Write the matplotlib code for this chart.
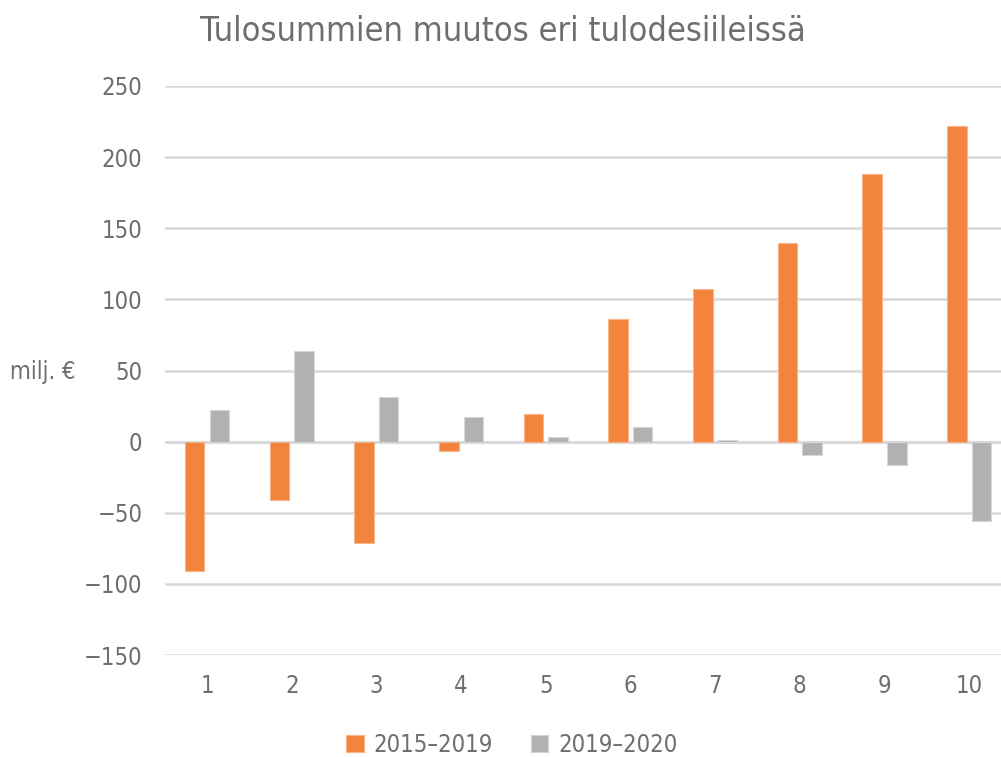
import numpy as np
import matplotlib.pyplot as plt
from matplotlib import font_manager

deciles = ['1', '2', '3', '4', '5', '6', '7', '8', '9', '10']
chg_2015_2019 = [-91, -41, -71, -6.5, 19.5, 86, 107, 139.5, 188, 222]
chg_2019_2020 = [22.5, 63.5, 31.5, 17.5, 3, 10, 1.2, -9.5, -16.5, -56]
series_names = ['2015–2019', '2019–2020']

orange = '#f2843d'
grey = '#b1b1b4'
txt = '#6d6e71'

# pick a narrow face if one is there
fonts = font_manager.fontManager.ttflist
narrow = [f for f in fonts if f.name == 'Liberation Sans Narrow']
condensed = [f for f in fonts if f.name == 'DejaVu Sans' and f.stretch == 'condensed']
if narrow:
    plt.rcParams['font.family'] = ['Liberation Sans Narrow', 'DejaVu Sans']
    scale = 1.0
elif condensed:
    plt.rcParams['font.family'] = ['DejaVu Sans']
    plt.rcParams['font.stretch'] = 'condensed'
    scale = 0.95
else:
    plt.rcParams['font.family'] = ['DejaVu Sans']
    scale = 0.85

fig = plt.figure(figsize=(10.01, 7.57), dpi=100)
ax = fig.add_axes([0.1645, 0.1347, 0.846, 0.7517])

x = np.arange(len(deciles))
w = 0.23
ax.bar(x - 0.145, chg_2015_2019, w, color=orange, edgecolor='#f7b58a', linewidth=0.8,
       label=series_names[0], zorder=3)
ax.bar(x + 0.145, chg_2019_2020, w, color=grey, edgecolor='#d6d6d8', linewidth=0.8,
       label=series_names[1], zorder=3)

ax.set_xlim(-0.5, len(deciles) - 0.5)
ax.set_ylim(-150, 250)
ax.set_yticks(range(-150, 251, 50))
ax.set_yticklabels([str(v).replace('-', '\u2212') for v in range(-150, 251, 50)])
ax.set_xticks(x)
ax.set_xticklabels(deciles)
ax.grid(axis='y', color='#d9d9d9', linewidth=1.8, zorder=0)
ax.axhline(0, color='#d9d9d9', linewidth=2.2, zorder=1)
for s in ax.spines.values():
    s.set_visible(False)
ax.tick_params(length=0, labelsize=18 * scale, colors=txt, pad=14)
ax.tick_params(axis='y', pad=16)

fig.text(0.010, 0.509, 'milj. €', fontsize=18 * scale, color=txt, va='center', ha='left')
fig.text(0.502, 0.958, 'Tulosummien muutos eri tulodesiileissä', fontsize=26 * scale,
         color=txt, ha='center', va='center')

leg = fig.legend(loc='center', bbox_to_anchor=(0.511, 0.016), ncol=2, frameon=False,
                 fontsize=18 * scale, handlelength=0.75, handleheight=0.75,
                 handletextpad=0.4, columnspacing=1.6, borderaxespad=0)
for t in leg.get_texts():
    t.set_color(txt)

fig.savefig('out.png', dpi=100)
